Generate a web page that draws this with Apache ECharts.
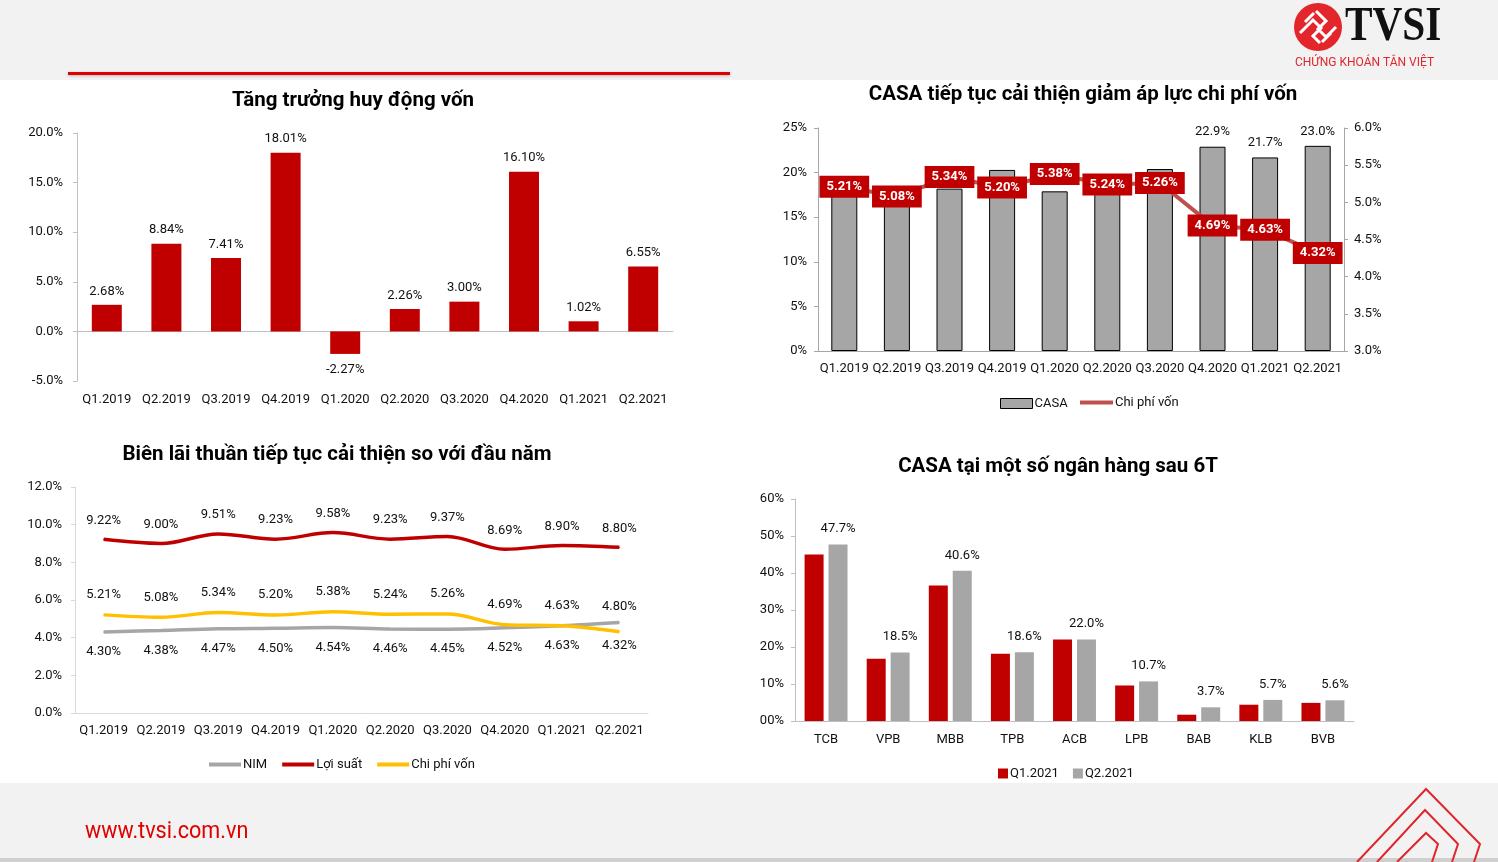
<!DOCTYPE html>
<html>
<head>
<meta charset="utf-8">
<script src="https://cdn.jsdelivr.net/npm/echarts@6/dist/echarts.min.js"></script>
<style>
html,body{margin:0;padding:0;background:#fff;}
#c{width:1498px;height:862px;}
</style>
</head>
<body>
<div id="c"></div>
<script>
// ---------- data ----------
const quarters = ['Q1.2019','Q2.2019','Q3.2019','Q4.2019','Q1.2020','Q2.2020','Q3.2020','Q4.2020','Q1.2021','Q2.2021'];
const depositGrowth = [2.68, 8.84, 7.41, 18.01, -2.27, 2.26, 3.00, 16.10, 1.02, 6.55];
const casaRatio = [18.4, 17.0, 18.2, 20.3, 17.9, 18.5, 20.4, 22.9, 21.7, 23.0];
const costOfFunds = [5.21, 5.08, 5.34, 5.20, 5.38, 5.24, 5.26, 4.69, 4.63, 4.32];
const assetYield = [9.22, 9.00, 9.51, 9.23, 9.58, 9.23, 9.37, 8.69, 8.90, 8.80];
const nim = [4.30, 4.38, 4.47, 4.50, 4.54, 4.46, 4.45, 4.52, 4.63, 4.80];
const banks = ['TCB','VPB','MBB','TPB','ACB','LPB','BAB','KLB','BVB'];
const casaQ1 = [45.0, 16.8, 36.6, 18.2, 22.0, 9.6, 1.7, 4.4, 4.9];
const casaQ2 = [47.7, 18.5, 40.6, 18.6, 22.0, 10.7, 3.7, 5.7, 5.6];

const FONT = 'Roboto, "Noto Sans", sans-serif';
const FS = 13;
const RED = '#c00000', GRAY = '#a6a6a6';
const chart = echarts.init(document.getElementById('c'), null, {renderer:'canvas'});

const axisLbl = (extra) => Object.assign({color:'#111', fontSize:FS, fontFamily:FONT}, extra||{});
const titleText = (t, x, y) => ({type:'text', x, y, style:{text:t, align:'center', verticalAlign:'middle', font:'bold 20.5px ' + FONT, fill:'#000'}});
const line = (pts, w, c) => ({type:'polyline', shape:{points:pts}, style:{stroke:c, lineWidth:w, fill:null}});
const legendText = {color:'#111', fontSize:FS, fontFamily:FONT, padding:[0,0,0,-3]};

const option = {
  animation:false,
  backgroundColor:'#ffffff',
  textStyle:{fontFamily:FONT},
  graphic:[
    {type:'rect', z:-10, shape:{x:0,y:0,width:1498,height:80}, style:{fill:'#f2f2f2'}},
    {type:'rect', z:-10, shape:{x:0,y:783,width:1498,height:79}, style:{fill:'#f2f2f2'}},
    {type:'rect', z:-9, shape:{x:0,y:858,width:1498,height:4}, style:{fill:'#cfcfcf'}},
    {type:'rect', z:-9, shape:{x:68,y:72,width:662,height:3}, style:{fill:'#e00000', shadowBlur:3, shadowColor:'rgba(0,0,0,0.25)', shadowOffsetY:1}},
    // logo
    {type:'circle', shape:{cx:1318, cy:27, r:24}, style:{fill:'#e3262b'}},
    line([[1300,33],[1313,20],[1321,28],[1313,36],[1320,43]], 3, '#ffffff'),
    line([[1316,11],[1326,21],[1318,29],[1326,37],[1336,27]], 3, '#ffffff'),
    line([[1305,22],[1314,13]], 3, '#ffffff'),
    line([[1322,42],[1331,33]], 3, '#ffffff'),
    {type:'text', x:1345, y:28, scaleX:0.86, style:{text:'TVSI', align:'left', verticalAlign:'middle', font:'bold 48px "Liberation Serif", "DejaVu Serif", serif', fill:'#111'}},
    {type:'text', x:1295, y:63, style:{text:'CHỨNG KHOÁN TÂN VIỆT', align:'left', verticalAlign:'middle', font:'12px ' + FONT, fill:'#e0262c'}},
    // footer
    {type:'text', x:85, y:832, scaleX:0.9, style:{text:'www.tvsi.com.vn', align:'left', verticalAlign:'middle', font:'24px ' + FONT, fill:'#e00000'}},
    line([[1357,862],[1426,789],[1480,844],[1474,862]], 2, '#e0262c'),
    line([[1377,862],[1425,810],[1458,844],[1452,862]], 2, '#e0262c'),
    line([[1397,862],[1426,833],[1438,844],[1432,862]], 2, '#e0262c'),
    // titles
    titleText('Tăng trưởng huy động vốn', 353, 101),
    titleText('CASA tiếp tục cải thiện giảm áp lực chi phí vốn', 1083, 95),
    titleText('Biên lãi thuần tiếp tục cải thiện so với đầu năm', 337, 455),
    titleText('CASA tại một số ngân hàng sau 6T', 1058, 467)
  ],
  grid:[
    {left:77, top:133, width:596, height:248},
    {left:818, top:128, width:526, height:223},
    {left:75, top:487, width:573, height:226},
    {left:795, top:499, width:559, height:222}
  ],
  xAxis:[
    {type:'category', gridIndex:0, data:quarters, axisLine:{show:false, onZero:false}, axisTick:{show:false}, axisLabel:axisLbl({margin:12, interval:0})},
    {type:'category', gridIndex:0, data:quarters, axisLine:{show:true, onZero:true, lineStyle:{color:'#bfbfbf'}}, axisTick:{show:false}, axisLabel:{show:false}},
    {type:'category', gridIndex:1, data:quarters, axisLine:{lineStyle:{color:'#a6a6a6'}}, axisTick:{show:false}, axisLabel:axisLbl({margin:11, interval:0})},
    {type:'category', gridIndex:2, data:quarters, axisLine:{lineStyle:{color:'#d9d9d9'}}, axisTick:{show:false}, axisLabel:axisLbl({margin:11, interval:0})},
    {type:'category', gridIndex:3, data:banks, axisLine:{lineStyle:{color:'#bfbfbf'}}, axisTick:{show:false}, axisLabel:axisLbl({margin:12, interval:0})}
  ],
  yAxis:[
    {type:'value', gridIndex:0, min:-5, max:20, interval:5, splitLine:{show:false},
     axisLine:{show:true, lineStyle:{color:'#bfbfbf'}}, axisTick:{show:true, length:4, lineStyle:{color:'#bfbfbf'}},
     axisLabel:axisLbl({margin:14, formatter:v=>v.toFixed(1)+'%'})},
    {type:'value', gridIndex:1, min:0, max:25, interval:5, splitLine:{show:false},
     axisLine:{show:true, lineStyle:{color:'#a6a6a6'}}, axisTick:{show:true, length:4, lineStyle:{color:'#a6a6a6'}},
     axisLabel:axisLbl({margin:11, formatter:v=>v+'%'})},
    {type:'value', gridIndex:1, position:'right', min:3, max:6, interval:0.5, splitLine:{show:false},
     axisLine:{show:true, lineStyle:{color:'#a6a6a6'}}, axisTick:{show:true, length:4, lineStyle:{color:'#a6a6a6'}},
     axisLabel:axisLbl({margin:10, formatter:v=>v.toFixed(1)+'%'})},
    {type:'value', gridIndex:2, min:0, max:12, interval:2, splitLine:{show:false},
     axisLine:{show:true, lineStyle:{color:'#d9d9d9'}}, axisTick:{show:true, length:4, lineStyle:{color:'#d9d9d9'}},
     axisLabel:axisLbl({margin:13, formatter:v=>v.toFixed(1)+'%'})},
    {type:'value', gridIndex:3, min:0, max:60, interval:10, splitLine:{show:false},
     axisLine:{show:true, lineStyle:{color:'#bfbfbf'}}, axisTick:{show:true, length:4, lineStyle:{color:'#bfbfbf'}},
     axisLabel:axisLbl({margin:11, formatter:v=>(v===0?'00':v)+'%'})}
  ],
  legend:[
    {left:995, top:392, itemWidth:32, itemHeight:10, icon:'rect', textStyle:{color:'#111', fontSize:FS, fontFamily:FONT, padding:[0,0,0,-3]},
     data:[{name:'CASA', itemStyle:{color:GRAY, borderColor:'#000', borderWidth:1}}]},
    {left:1075, top:391, itemWidth:33, itemHeight:4, icon:'rect', textStyle:legendText,
     data:[{name:'Chi phí vốn', itemStyle:{color:'#c0504d', borderWidth:0}}]},
    {left:204, top:753, itemWidth:32, itemHeight:4, icon:'rect', itemGap:15, textStyle:legendText,
     data:[{name:'NIM', itemStyle:{color:GRAY, borderWidth:0}}, {name:'Lợi suất', itemStyle:{color:RED, borderWidth:0}}, {name:'Chi phí vốn', itemStyle:{color:'#ffc000', borderWidth:0}}]},
    {left:993, top:762, itemWidth:10, itemHeight:10, icon:'rect', itemGap:14, textStyle:legendText,
     data:[{name:'Q1.2021', itemStyle:{color:RED, borderWidth:0}}, {name:'Q2.2021', itemStyle:{color:GRAY, borderWidth:0}}]}
  ],
  series:[
    {type:'bar', name:'Tăng trưởng', xAxisIndex:0, yAxisIndex:0, barWidth:30, itemStyle:{color:RED},
     label:{show:true, position:'top', distance:7, color:'#111', fontSize:FS, fontFamily:FONT, formatter:p=>p.value.toFixed(2)+'%'},
     data:depositGrowth.map(v => v < 0 ? {value:v, label:{position:'bottom', distance:9}} : v)},
    {type:'bar', name:'CASA', xAxisIndex:2, yAxisIndex:1, barWidth:26, itemStyle:{color:GRAY, borderColor:'#000', borderWidth:1},
     label:{show:false, position:'top', distance:8, color:'#111', fontSize:FS, fontFamily:FONT, formatter:p=>p.value.toFixed(1)+'%'},
     data:casaRatio.map((v,i) => i >= 7 ? {value:v, label:{show:true}} : v)},
    {type:'line', name:'Chi phí vốn', xAxisIndex:2, yAxisIndex:2, symbol:'circle', symbolSize:1, z:5,
     lineStyle:{color:'#c0504d', width:4}, itemStyle:{color:'#c0504d'},
     label:{show:true, position:'inside', color:'#fff', fontWeight:'bold', fontSize:13, fontFamily:FONT, backgroundColor:RED, padding:[5,7,4,7],
            formatter:p=>p.value.toFixed(2)+'%'},
     data:costOfFunds},
    {type:'line', name:'NIM', xAxisIndex:3, yAxisIndex:3, smooth:0.35, symbol:'circle', symbolSize:1,
     lineStyle:{color:GRAY, width:3.5}, itemStyle:{color:GRAY},
     label:{show:true, position:'bottom', distance:13, color:'#111', fontSize:FS, fontFamily:FONT, formatter:p=>p.value.toFixed(2)+'%'},
     data:nim.map((v,i) => i === nim.length-1 ? {value:v, label:{position:'top', distance:9}} : v)},
    {type:'line', name:'Lợi suất', xAxisIndex:3, yAxisIndex:3, smooth:0.35, symbol:'circle', symbolSize:1,
     lineStyle:{color:RED, width:3.5}, itemStyle:{color:RED},
     label:{show:true, position:'top', distance:12, color:'#111', fontSize:FS, fontFamily:FONT, formatter:p=>p.value.toFixed(2)+'%'},
     data:assetYield},
    {type:'line', name:'Chi phí vốn', xAxisIndex:3, yAxisIndex:3, smooth:0.35, symbol:'circle', symbolSize:1,
     lineStyle:{color:'#ffc000', width:3.5}, itemStyle:{color:'#ffc000'},
     label:{show:true, position:'top', distance:13, color:'#111', fontSize:FS, fontFamily:FONT, formatter:p=>p.value.toFixed(2)+'%'},
     data:costOfFunds.map((v,i) => i === costOfFunds.length-1 ? {value:v, label:{position:'bottom', distance:7}} : v)},
    {type:'bar', name:'Q1.2021', xAxisIndex:4, yAxisIndex:4, barWidth:19, barGap:'26%', itemStyle:{color:RED}, data:casaQ1},
    {type:'bar', name:'Q2.2021', xAxisIndex:4, yAxisIndex:4, barWidth:19, barGap:'26%', itemStyle:{color:GRAY},
     label:{show:true, position:'top', distance:9, color:'#111', fontSize:FS, fontFamily:FONT, formatter:p=>p.value.toFixed(1)+'%'},
     data:casaQ2}
  ]
};
chart.setOption(option);
</script>
</body>
</html>
